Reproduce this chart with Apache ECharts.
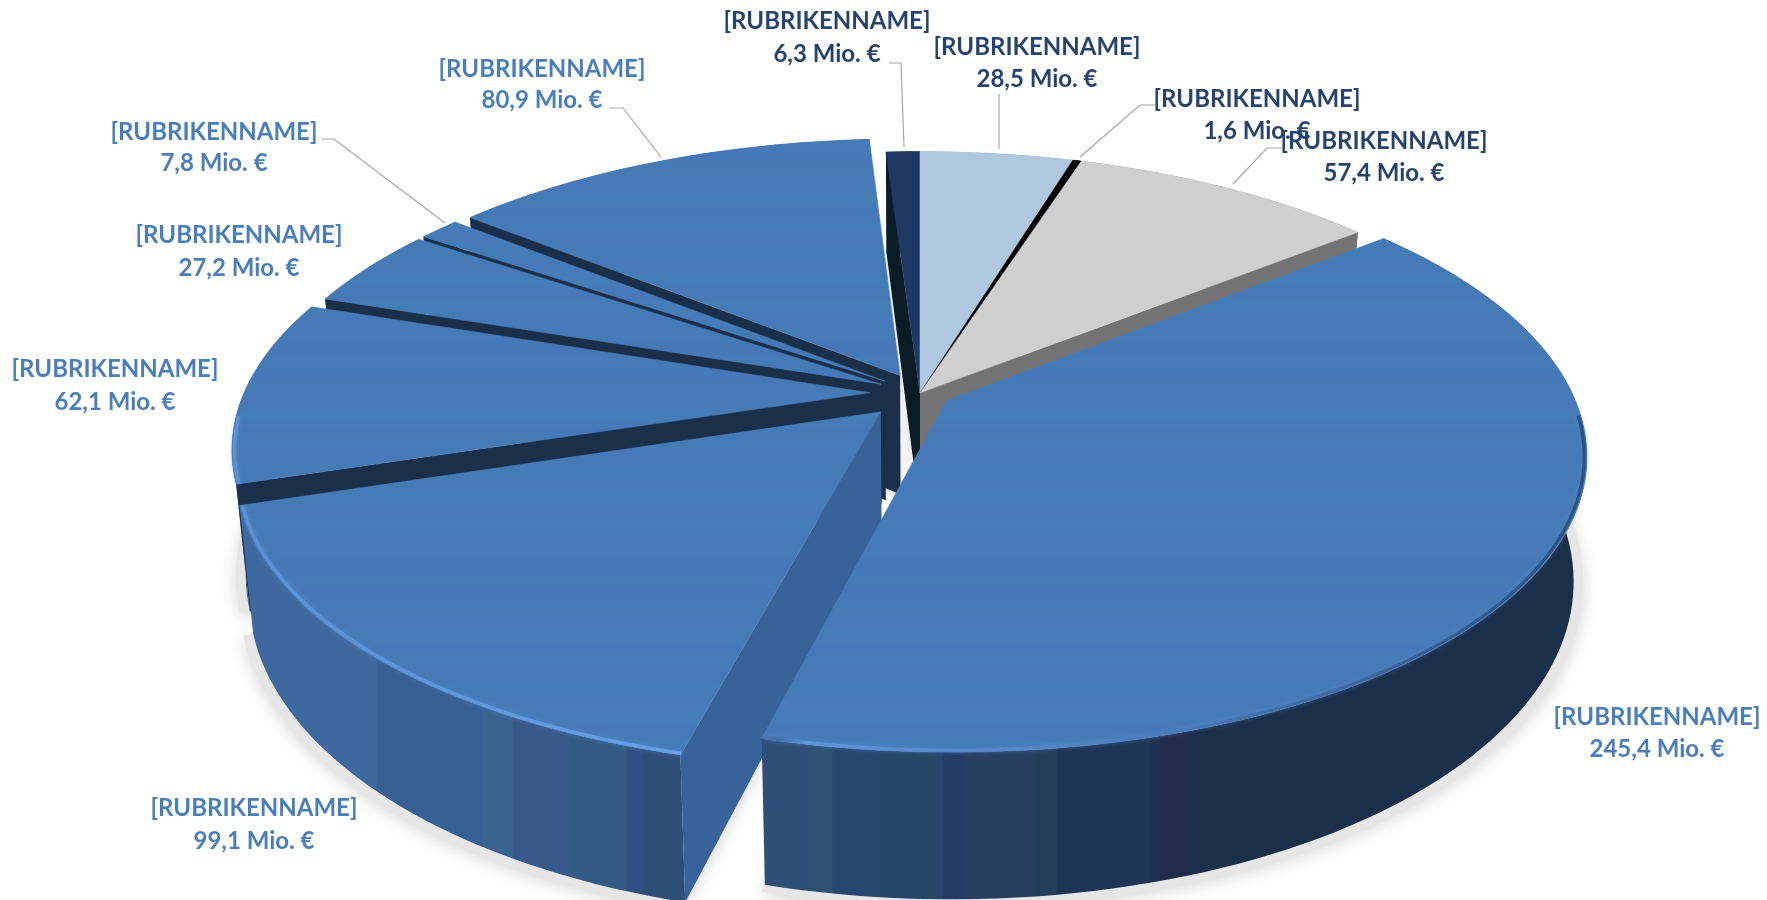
<!DOCTYPE html>
<html>
<head>
<meta charset="utf-8">
<title>Rubriken</title>
<style>
  html, body { margin: 0; padding: 0; background: #fff; }
  #chart { width: 1767px; height: 900px; }
</style>
</head>
<body>
<div id="chart"></div>
<script src="https://cdn.jsdelivr.net/npm/echarts@6/dist/echarts.min.js"></script>
<script>
  // data, clockwise from 12 o'clock
  const categories = ['[RUBRIKENNAME]', '[RUBRIKENNAME]', '[RUBRIKENNAME]', '[RUBRIKENNAME]', '[RUBRIKENNAME]',
    '[RUBRIKENNAME]', '[RUBRIKENNAME]', '[RUBRIKENNAME]', '[RUBRIKENNAME]', '[RUBRIKENNAME]']
  const values = [28.5, 1.6, 57.4, 245.4, 99.1, 62.1, 27.2, 7.8, 80.9, 6.3]
  const unit = ' Mio. €'

  // how far each slice is pulled out of the pie
  const explode = [0, 0, 0, 0.05, 0.09, 0.08, 0.07, 0.07, 0.07, 0]
  // back to front
  const drawOrder = [9, 0, 1, 2, 8, 7, 6, 5, 4, 3]

  const faceColors = ['#b0c7e0', '#000000', '#cfcfcf', 'blue', 'blue', 'blue', 'blue', 'blue', 'blue', '#1f3864']
  const startWallColors = ['#8a9bb0', '#000000', '#737373', '#1a2f4a', '#38639a', '#1a2f4a', '#1a2f4a', '#1a2f4a', '#1a2f4a', '#0a1c26']
  const endWallColors = ['#8a9bb0', '#000000', '#737373', '#1a2f4a', '#38639a', '#1a2f4a', '#1a2f4a', '#1a2f4a', '#1a2f4a', '#0a1c26']
  const labelColors = ['#264370', '#264370', '#264370', '#4a7ebb', '#4a7ebb', '#4a7ebb', '#4a7ebb', '#4a7ebb', '#4a7ebb', '#264370']

  // label centre x, y of the two text lines
  const labelPos = [[1037, 47, 79], [1257, 99, 131], [1384, 141, 173], [1657, 717, 749], [254, 808, 841],
    [115, 369, 402], [239, 235, 268], [214, 132, 163], [542, 69, 100], [827, 21, 54]]
  // leader lines, empty where the label sits next to its slice
  const leaders = [
    [[999, 94], [999, 149]],
    [[1155, 105], [1140, 105], [1080, 157]],
    [[1282, 148], [1267, 148], [1233, 184]],
    [], [], [], [],
    [[321, 139], [334, 139], [445, 223]],
    [[609, 108], [623, 108], [661, 157]],
    [[889, 63], [901, 63], [904, 147]]
  ]

  // projection of the tilted disc
  const CX = 920
  const CY = 393
  const RX = 626
  const RY = 285
  const PERSP = 0.18
  const DEPTH = 120
  const BOTTOM_SCALE = 0.98
  const TOTAL = values.reduce((a, b) => a + b, 0)

  // colour bands of the outer wall, [right end x, colour]
  const wallBands = [
    [377, '#3e699e'], [483, '#375f93'], [513, '#38648f'], [570, '#385a8a'], [627, '#325a85'], [643, '#2f5082'], [690, '#2e4f78'],
    [763, '#2e5078'], [810, '#2e5078'], [833, '#2f5272'], [880, '#274670'], [943, '#264768'], [963, '#233c68'],
    [1037, '#273e5f'], [1057, '#223f59'], [1150, '#1e3555'], [1160, '#1f2f55'], [1190, '#212c4d'], [1600, '#1a2f4a']
  ]
  const faceBands = ['#4677b7', '#447bb5', '#4777b9', '#457bb4', '#4778b8', '#447db5', '#4678b9', '#447cb6',
    '#4778b8', '#437cb4', '#4679b8', '#447db6', '#4778b8', '#437db5', '#4679b9', '#447bb6']

  function bandGradient(bands) {
    const x0 = 230
    const x1 = 1600
    const colorStops = []
    let from = x0
    bands.forEach(b => {
      colorStops.push({ offset: (from - x0) / (x1 - x0), color: b[1] })
      colorStops.push({ offset: (b[0] - x0 - 1) / (x1 - x0), color: b[1] })
      from = b[0]
    })
    return { type: 'linear', x: x0, y: 0, x2: x1, y2: 0, global: true, colorStops }
  }

  function faceGradient() {
    const fine = faceBands.concat(faceBands, faceBands)
    const n = fine.length
    const colorStops = fine.map((c, i) => ({ offset: i / (n - 1), color: c }))
    return { type: 'linear', x: 0, y: 130, x2: 0, y2: 770, global: true, colorStops }
  }

  const wallFill = bandGradient(wallBands)
  const faceFill = faceGradient()
  const rimFill = {
    type: 'linear', x: 230, y: 0, x2: 1600, y2: 0, global: true,
    colorStops: [
      { offset: 0, color: '#5a90d4' },
      { offset: 0.34, color: '#66a0e6' },
      { offset: 0.4, color: '#3f6ea8' },
      { offset: 0.42, color: '#5e95da' },
      { offset: 0.62, color: '#5083c4' },
      { offset: 0.78, color: '#3f6ea8' },
      { offset: 1, color: '#2a507f' }
    ]
  }

  // angle (degrees, clockwise from top) -> screen point
  function project(deg, radius, slice, bottom) {
    const a = deg * Math.PI / 180
    const b = slice.mid * Math.PI / 180
    const X = radius * Math.sin(a) + slice.explode * Math.sin(b)
    const Z = radius * Math.cos(a) + slice.explode * Math.cos(b)
    const w = 1 + PERSP * Z
    const dx = RX * X / w
    return [CX + (bottom ? dx * BOTTOM_SCALE : dx), CY - RY * Z / w + (bottom ? DEPTH / w : 0)]
  }

  function arcPoints(slice, radius, bottom, reverse) {
    const pts = []
    const steps = Math.max(2, Math.ceil((slice.end - slice.start) / 1.5))
    for (let i = 0; i <= steps; i++) {
      const t = reverse ? 1 - i / steps : i / steps
      pts.push(project(slice.start + (slice.end - slice.start) * t, radius, slice, bottom))
    }
    return pts
  }

  let sum = 0
  const slices = values.map((v, i) => {
    const start = sum / TOTAL * 360
    sum += v
    const end = sum / TOTAL * 360
    return { start, end, mid: (start + end) / 2, explode: explode[i] }
  })

  function poly(points, style, z2) {
    return { type: 'polygon', shape: { points }, style, z2: z2 || 0 }
  }

  // a radial wall shows only if moving down leaves the top face across that edge
  function wallFacesViewer(s, deg) {
    const apex = project(0, 0, s, false)
    const rim = project(deg, 1, s, false)
    const inner = project(s.mid, 1, s, false)
    const ex = rim[0] - apex[0]
    const ey = rim[1] - apex[1]
    const crossDown = ex
    const crossInner = ex * (inner[1] - apex[1]) - ey * (inner[0] - apex[0])
    return crossDown * crossInner < 0
  }

  function renderSlice(params, api) {
    const i = api.value(0)
    const s = slices[i]
    const apexTop = project(0, 0, s, false)
    const apexBot = project(0, 0, s, true)
    const face = faceColors[i] === 'blue' ? faceFill : faceColors[i]
    const wall = faceColors[i] === 'blue' ? wallFill : endWallColors[i]
    const children = []

    children.push(poly(arcPoints(s, 1, false, false).concat(arcPoints(s, 1, true, true)), { fill: wall }))
    if (wallFacesViewer(s, s.start)) {
      children.push(poly([apexTop, project(s.start, 1, s, false), project(s.start, 1, s, true), apexBot], { fill: startWallColors[i] }))
    }
    if (wallFacesViewer(s, s.end)) {
      children.push(poly([apexTop, project(s.end, 1, s, false), project(s.end, 1, s, true), apexBot], { fill: endWallColors[i] }))
    }
    children.push(poly([apexTop].concat(arcPoints(s, 1, false, false)), { fill: face, stroke: face, lineWidth: 0.5 }))

    // lit bevel along the near rim
    if (faceColors[i] === 'blue' && s.mid > 90 && s.mid < 280) {
      children.push({
        type: 'polyline',
        shape: { points: arcPoints(s, 0.996, false, false).filter(p => p[1] > CY + 20) },
        style: { stroke: rimFill, fill: null, lineWidth: 3.5, shadowBlur: 4, shadowColor: 'rgba(90,140,210,0.6)' }
      })
    }
    return { type: 'group', children }
  }

  function renderShadow(params, api) {
    const s = slices[api.value(0)]
    const apexBot = project(0, 0, s, true)
    return poly([apexBot].concat(arcPoints(s, 1.015, true, false)), {
      fill: '#e6e6e6', shadowBlur: 16, shadowColor: 'rgba(0,0,0,0.16)', shadowOffsetY: 4
    })
  }

  function renderLabel(params, api) {
    const i = api.value(0)
    const pos = labelPos[i]
    const font = 'bold 24px Lato'
    const children = []
    if (leaders[i].length) {
      children.push({
        type: 'polyline',
        shape: { points: leaders[i] },
        style: { stroke: '#a6a6a6', fill: null, lineWidth: 1.2 }
      })
    }
    const text = (str, y) => ({
      type: 'text',
      style: { text: str, x: pos[0], y, align: 'center', verticalAlign: 'middle', font, fill: labelColors[i] }
    })
    children.push(text(categories[i], pos[1]))
    children.push(text(values[i].toFixed(1).replace('.', ',') + unit, pos[2]))
    return { type: 'group', children }
  }

  const chart = echarts.init(document.getElementById('chart'), null, { renderer: 'canvas' })
  chart.setOption({
    backgroundColor: '#ffffff',
    animation: false,
    series: [
      { type: 'custom', coordinateSystem: 'none', silent: true, z: 1, renderItem: renderShadow, data: drawOrder.map(i => [i]) },
      { type: 'custom', coordinateSystem: 'none', silent: true, z: 2, renderItem: renderSlice, data: drawOrder.map(i => [i]) },
      { type: 'custom', coordinateSystem: 'none', silent: true, z: 3, renderItem: renderLabel, data: values.map((v, i) => [i]) }
    ]
  })
</script>
</body>
</html>
